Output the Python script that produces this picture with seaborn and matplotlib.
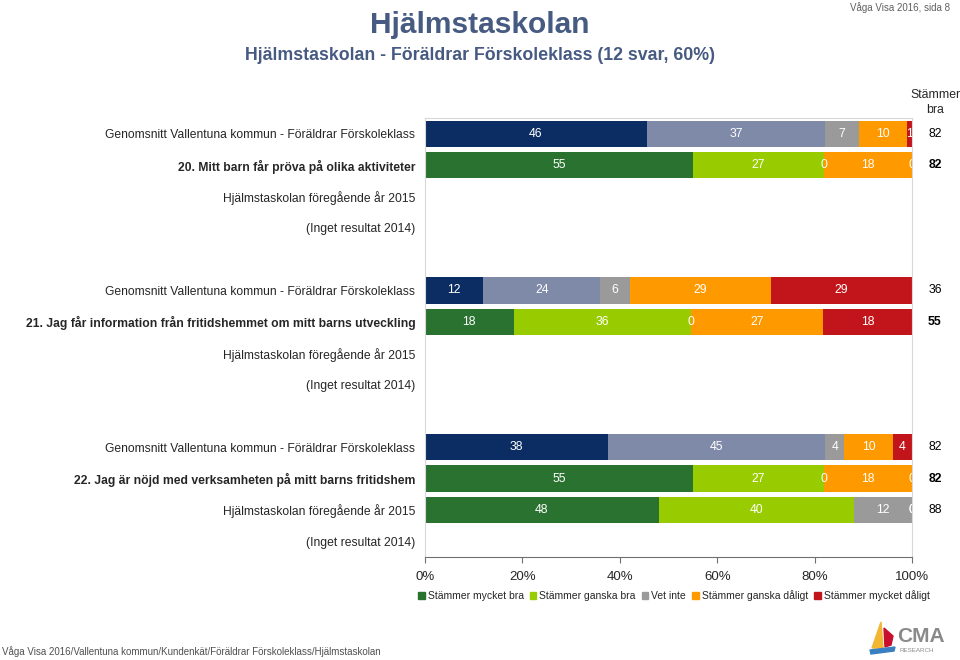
import matplotlib
matplotlib.use("Agg")
import matplotlib.pyplot as plt
import seaborn as sns
import pandas as pd
import numpy as np
from matplotlib.patches import Polygon, Patch

# ---------------- data ----------------
categories = ["Stämmer mycket bra", "Stämmer ganska bra", "Vet inte",
              "Stämmer ganska dåligt", "Stämmer mycket dåligt"]
questions = ["20. Mitt barn får pröva på olika aktiviteter",
             "21. Jag får information från fritidshemmet om mitt barns utveckling",
             "22. Jag är nöjd med verksamheten på mitt barns fritidshem"]
avg_label = "Genomsnitt Vallentuna kommun - Föräldrar Förskoleklass"
prev_label = "Hjälmstaskolan föregående år 2015"
none_label = "(Inget resultat 2014)"

avg_values = [[46, 37, 7, 10, 1],
              [12, 24, 6, 29, 29],
              [38, 45, 4, 10, 4]]
school_values = [[55, 27, 0, 18, 0],
                 [18, 36, 0, 27, 18],
                 [55, 27, 0, 18, 0]]
prev_values = [None, None, [48, 40, 12, 0, 0]]

avg_bra = [82, 36, 82]
school_bra = [82, 55, 82]
prev_bra = [None, None, 88]

xticks = [0, 20, 40, 60, 80, 100]
xticklabels = ["0%", "20%", "40%", "60%", "80%", "100%"]

# ---------------- styles ----------------
avg_colors = ["#0B2D64", "#7F8AA8", "#9A9A9A", "#FF9900", "#C2151B"]
school_colors = ["#2A722F", "#99CC00", "#9A9A9A", "#FF9900", "#C2151B"]
title_color = "#465A82"

sns.set_theme(style="white")
plt.rcParams["font.family"] = ["Liberation Sans", "DejaVu Sans"]

# ---------------- build rows ----------------
rows = []
for g in range(3):
    rows.append(dict(label=avg_label, values=avg_values[g], kind="avg",
                     bra=avg_bra[g], bold=False))
    rows.append(dict(label=questions[g], values=school_values[g], kind="school",
                     bra=school_bra[g], bold=True))
    rows.append(dict(label=prev_label, values=prev_values[g], kind="school",
                     bra=prev_bra[g], bold=False))
    rows.append(dict(label=none_label, values=None, kind="school",
                     bra=None, bold=False))
    if g < 2:
        rows.append(dict(label="", values=None, kind="blank", bra=None, bold=False))
for i, r in enumerate(rows):
    r["key"] = f"r{i}"
order = [r["key"] for r in rows]

fig = plt.figure(figsize=(9.6, 6.6), dpi=100)
ax = fig.add_axes([425/960, 1-557/660, (912-425)/960, (557-118)/660])

# stacked layers, drawn from full total down to the first segment
for k in range(4, -1, -1):
    recs = []
    pal = {}
    for r in rows:
        v = r["values"]
        cum = 0.0 if v is None else sum(v[:k+1]) / sum(v) * 100
        recs.append(dict(row=r["key"], cum=cum))
        pal[r["key"]] = avg_colors[k] if r["kind"] == "avg" else school_colors[k]
    df = pd.DataFrame(recs)
    sns.barplot(data=df, y="row", x="cum", hue="row", palette=pal, order=order,
                hue_order=order, legend=False, orient="h", width=0.84,
                errorbar=None, linewidth=0, saturation=1, ax=ax)

# value labels
for i, r in enumerate(rows):
    v = r["values"]
    if v is None:
        continue
    tot = sum(v)
    left = 0.0
    for val in v:
        w = val / tot * 100
        ax.text(left + w/2, i, f"{val}", ha="center", va="center",
                color="white", fontsize=8.8, clip_on=True)
        left += w

# Stämmer bra column
for i, r in enumerate(rows):
    if r["bra"] is not None:
        ax.annotate(f"{r['bra']}", xy=(935/960, i), xycoords=("figure fraction", "data"),
                    ha="center", va="center", fontsize=8.8, color="black",
                    fontweight="bold" if r["bold"] else "normal", annotation_clip=False)

ax.set_xlim(0, 100)
ax.set_ylim(len(rows) - 0.5, -0.5)
ax.set_xticks(xticks)
ax.set_xticklabels(xticklabels, fontsize=9.5)
ax.set_yticks(range(len(rows)))
ax.set_yticklabels([r["label"] for r in rows], fontsize=8.75)
for lab, r in zip(ax.get_yticklabels(), rows):
    if r["bold"]:
        lab.set_fontweight("bold")
ax.set_xlabel("")
ax.set_ylabel("")
ax.tick_params(axis="y", length=0, pad=7)
ax.tick_params(axis="x", length=4, width=0.8, color="#707070", direction="out",
               bottom=True, pad=6)
for side in ["left", "right", "top"]:
    ax.spines[side].set_color("#D8D8D8")
    ax.spines[side].set_linewidth(0.8)
ax.spines["bottom"].set_color("#707070")
ax.spines["bottom"].set_linewidth(0.8)

# header of right column
fig.text(935/960, 1-95/660, "Stämmer", ha="center", va="center", fontsize=8.8)
fig.text(935/960, 1-110/660, "bra", ha="center", va="center", fontsize=8.8)

# titles
fig.text(480/960, 1-25/660, "Hjälmstaskolan", ha="center", va="center",
         fontsize=21.5, color=title_color, fontweight="bold")
fig.text(480/960, 1-55/660, "Hjälmstaskolan - Föräldrar Förskoleklass (12 svar, 60%)",
         ha="center", va="center", fontsize=12.8, color=title_color, fontweight="bold")
fig.text(950/960, 1-8/660, "Våga Visa 2016, sida 8", ha="right", va="center",
         fontsize=7, color="#606060")
fig.text(2/960, 1-652/660,
         "Våga Visa 2016/Vallentuna kommun/Kundenkät/Föräldrar Förskoleklass/Hjälmstaskolan",
         ha="left", va="center", fontsize=7, color="#505050")

# legend
handles = [Patch(color=c, label=l) for c, l in zip(school_colors, categories)]
fig.legend(handles=handles, loc="center", bbox_to_anchor=(674/960, 1-596/660),
           ncol=5, frameon=False, fontsize=7.5, handlelength=0.6, handleheight=0.6,
           handletextpad=0.3, columnspacing=0.6)

# logo
def fp(x, y):
    return (x/960, 1-y/660)
fig.patches.append(Polygon([fp(881, 622), fp(883, 648), fp(872, 648)], closed=True,
                           transform=fig.transFigure, color="#F2B632"))
fig.patches.append(Polygon([fp(884, 628), fp(893, 636), fp(891, 645), fp(885, 647)],
                           closed=True, transform=fig.transFigure, color="#C8102E"))
fig.patches.append(Polygon([fp(870, 650), fp(895, 647), fp(894, 651), fp(871, 654)],
                           closed=True, transform=fig.transFigure, color="#3A7FC1"))
fig.text(897/960, 1-637/660, "CMA", ha="left", va="center", fontsize=15,
         color="#8A8A8A", fontweight="bold")
fig.text(899/960, 1-650/660, "RESEARCH", ha="left", va="center", fontsize=4.5,
         color="#8A8A8A")

fig.savefig("out.png", dpi=100)
